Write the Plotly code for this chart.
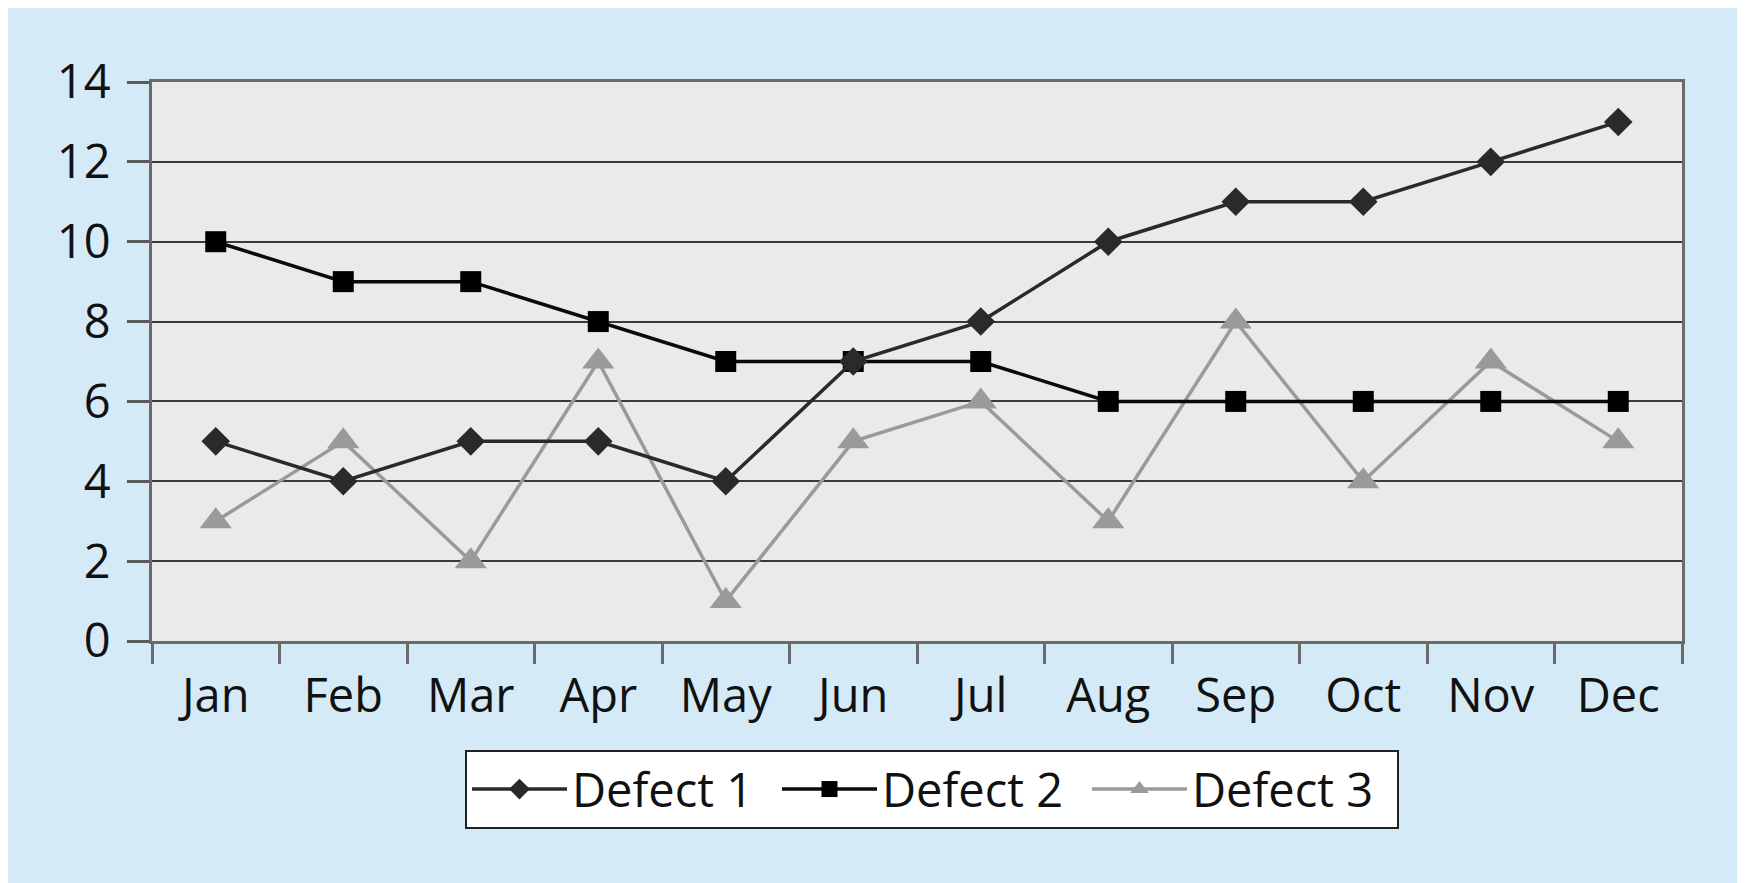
import plotly.graph_objects as go

months = ["Jan", "Feb", "Mar", "Apr", "May", "Jun", "Jul", "Aug", "Sep", "Oct", "Nov", "Dec"]
defect1 = [5, 4, 5, 5, 4, 7, 8, 10, 11, 11, 12, 13]
defect2 = [10, 9, 9, 8, 7, 7, 7, 6, 6, 6, 6, 6]
defect3 = [3, 5, 2, 7, 1, 5, 6, 3, 8, 4, 7, 5]
y_ticks = [0, 2, 4, 6, 8, 10, 12, 14]

W, H = 1734, 883
L, R, T, B = 144, 1674, 74, 633
pw, ph = R - L, B - T

def px_to_paper_x(px):
    return (px - L) / pw

def px_to_paper_y(py):
    return (B - py) / ph

FONT = "Open Sans"
fig = go.Figure()
fig.add_trace(go.Scatter(x=months, y=defect3, name="Defect 3", mode="lines+markers",
                         line=dict(color="#9a9a9a", width=3.5),
                         marker=dict(symbol="triangle-up", size=28, color="#9a9a9a")))
fig.add_trace(go.Scatter(x=months, y=defect2, name="Defect 2", mode="lines+markers",
                         line=dict(color="#0a0a0a", width=3.5),
                         marker=dict(symbol="square", size=21, color="#000000")))
fig.add_trace(go.Scatter(x=months, y=defect1, name="Defect 1", mode="lines+markers",
                         line=dict(color="#2a2a2a", width=3.5),
                         marker=dict(symbol="diamond", size=22, color="#2a2a2a")))

fig.update_layout(
    width=W, height=H,
    margin=dict(l=L, r=W - R, t=T, b=H - B, pad=0),
    paper_bgcolor="#d4eaf7",
    plot_bgcolor="#eaeaea",
    font=dict(family=FONT, size=47, color="#111111"),
    showlegend=True,
    legend=dict(orientation="h", x=px_to_paper_x(924), xanchor="center",
                y=px_to_paper_y(742), yanchor="top",
                bgcolor="white", bordercolor="#222222", borderwidth=2,
                font=dict(family=FONT, size=47, color="#111111"),
                traceorder="reversed", itemwidth=95,
                entrywidth=200, entrywidthmode="pixels"),
    xaxis=dict(type="category", categoryorder="array", categoryarray=months,
               range=[-0.5, 11.5],
               tickson="boundaries", ticks="outside", ticklen=20, tickwidth=3,
               tickcolor="#6a6a6a", showline=True, linecolor="#6a6a6a", linewidth=3,
               mirror=True, showgrid=False, tickfont=dict(size=47), ticklabelstandoff=12),
    yaxis=dict(range=[0, 14], tickvals=y_ticks, ticks="outside", ticklen=22, tickwidth=3,
               tickcolor="#5a5a5a", showline=True, linecolor="#6a6a6a", linewidth=3,
               mirror=True, showgrid=True, gridcolor="#3a3a3a", gridwidth=2,
               zeroline=False, tickfont=dict(size=47), ticklabelstandoff=7),
)

fig.write_html("out.html")
